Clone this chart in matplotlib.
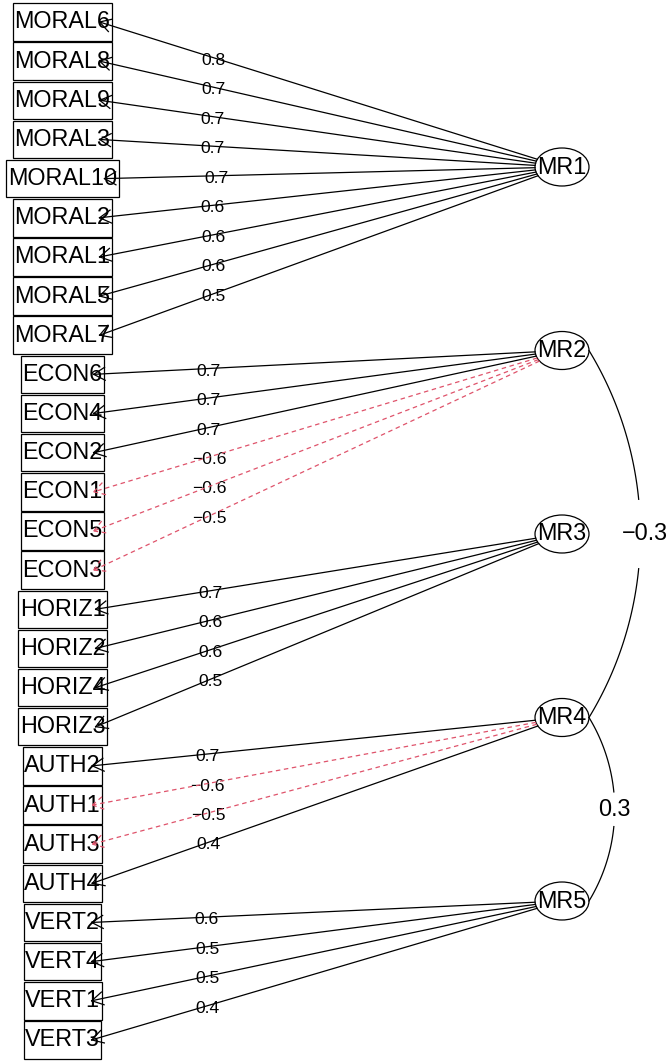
import numpy as np
import matplotlib.pyplot as plt
from matplotlib.patches import Ellipse, Rectangle

plt.rcParams['font.family'] = ['Liberation Sans', 'DejaVu Sans']

# factor diagram data
factors = ['MR1', 'MR2', 'MR3', 'MR4', 'MR5']
variables = ['MORAL6', 'MORAL8', 'MORAL9', 'MORAL3', 'MORAL10', 'MORAL2', 'MORAL1', 'MORAL5', 'MORAL7',
             'ECON6', 'ECON4', 'ECON2', 'ECON1', 'ECON5', 'ECON3',
             'HORIZ1', 'HORIZ2', 'HORIZ4', 'HORIZ3',
             'AUTH2', 'AUTH1', 'AUTH3', 'AUTH4',
             'VERT2', 'VERT4', 'VERT1', 'VERT3']
loadings = [0.8, 0.7, 0.7, 0.7, 0.7, 0.6, 0.6, 0.6, 0.5,
            0.7, 0.7, 0.7, -0.6, -0.6, -0.5,
            0.7, 0.6, 0.6, 0.5,
            0.7, -0.6, -0.5, 0.4,
            0.6, 0.5, 0.5, 0.4]
var_factor = [0] * 9 + [1] * 6 + [2] * 4 + [3] * 4 + [4] * 4
corr_pairs = [(1, 3), (3, 4)]
corr_values = [-0.3, 0.3]

# layout (pixel units)
W, H = 668, 1063
var_x = 62.5
var_y0, var_dy = 22, 39.15
box_h = 37.5
fac_x = 562
fac_y0, fac_dy = 167, 183.5
ell_a, ell_b = 27, 19
red = '#DF536B'
big, small = 16.8, 12.6
lw = 0.9
dash = (0, (3.6, 2.9))

fig = plt.figure(figsize=(W / 100, H / 100), dpi=100)
ax = fig.add_axes([0, 0, 1, 1])
ax.set_xlim(0, W)
ax.set_ylim(H, 0)
ax.axis('off')

var_y = var_y0 + var_dy * np.arange(len(variables))
fac_y = fac_y0 + fac_dy * np.arange(len(factors))

# variable boxes
texts = [ax.text(var_x, y, v, ha='center', va='center', fontsize=big) for v, y in zip(variables, var_y)]
fig.canvas.draw()
r = fig.canvas.get_renderer()
half_w = []
for t, y in zip(texts, var_y):
    w = t.get_window_extent(r).width + 3
    half_w.append(w / 2)
    ax.add_patch(Rectangle((var_x - w / 2, y - box_h / 2), w, box_h, fill=False, lw=lw, ec='black'))

# loading arrows
for i, (l, f) in enumerate(zip(loadings, var_factor)):
    fx, fy = fac_x, fac_y[f]
    tx, ty = var_x + 0.75 * half_w[i], var_y[i]
    dx, dy = tx - fx, ty - fy
    k = 1 / np.sqrt((dx / ell_a) ** 2 + (dy / ell_b) ** 2)
    sx, sy = fx + k * dx, fy + k * dy
    col = 'black' if l > 0 else red
    ls = '-' if l > 0 else dash
    ax.plot([sx, tx], [sy, ty], color=col, lw=lw, ls=ls, zorder=4)
    ang = np.arctan2(sy - ty, sx - tx)
    for s in (1, -1):
        a = ang + s * np.pi / 6
        ax.plot([tx, tx + 13 * np.cos(a)], [ty, ty + 13 * np.sin(a)], color=col, lw=lw, ls=ls, zorder=4)
    lx = sx + 0.74 * (tx - sx)
    ly = sy + 0.74 * (ty - sy) + 2.5
    ax.text(lx, ly, f'{l:.1f}'.replace('-', '\u2212'), ha='center', va='center', fontsize=small)

# factor ellipses
for f, y in zip(factors, fac_y):
    ax.add_patch(Ellipse((fac_x, y), 2 * ell_a, 2 * ell_b, fill=False, lw=lw, ec='black'))
    ax.text(fac_x, y, f, ha='center', va='center', fontsize=big)

# factor correlations
for (a, b), c in zip(corr_pairs, corr_values):
    px = fac_x + ell_a
    y1, y2 = fac_y[a], fac_y[b]
    chord = y2 - y1
    sag = 0.14 * chord
    R = ((chord / 2) ** 2 + sag ** 2) / (2 * sag)
    cx, cy = px + sag - R, (y1 + y2) / 2
    phi = np.arcsin((chord / 2) / R)
    for lo, hi in ((-phi, -0.18 * phi), (0.18 * phi, phi)):
        th = np.linspace(lo, hi, 60)
        ax.plot(cx + R * np.cos(th), cy + R * np.sin(th), color='black', lw=lw)
    ax.text(cx + R + (4 if c < 0 else 0), cy, f'{c:.1f}'.replace('-', '\u2212'),
            ha='center', va='center', fontsize=big)

fig.savefig('out.png', dpi=100)
